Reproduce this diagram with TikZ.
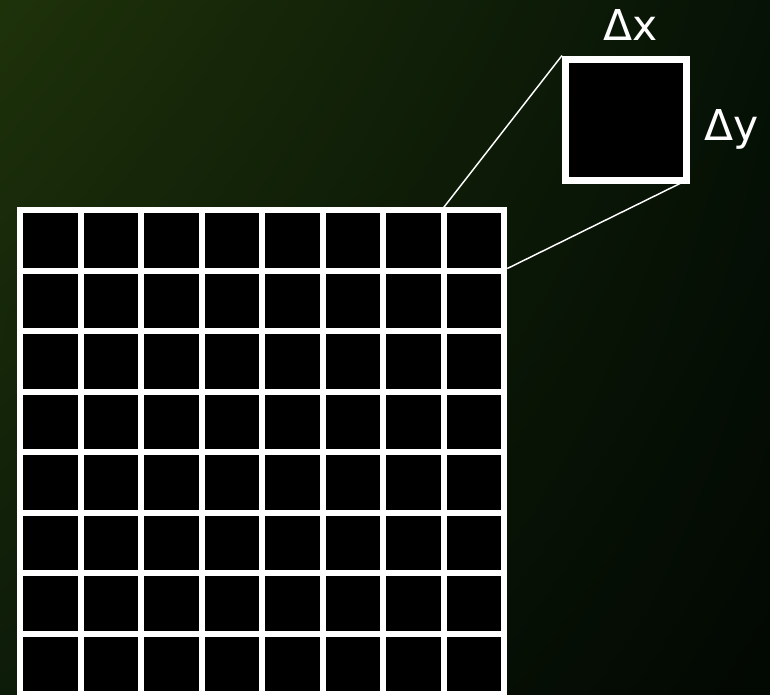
\documentclass[tikz,border=0pt]{standalone}
\usepackage{fontspec}
\setmainfont{DejaVu Sans}
\usepackage{tikz}
\usetikzlibrary{calc,shadings}

\definecolor{bgUL}{RGB}{30,50,10}
\definecolor{bgUR}{RGB}{6,18,6}
\definecolor{bgLL}{RGB}{13,27,9}
\definecolor{bgLR}{RGB}{2,8,2}

\begin{document}
\begin{tikzpicture}[x=0.75pt, y=-0.75pt,
    gridline/.style={white, line width=4.5pt},
    link/.style={white, line width=1.1pt},
    label/.style={white, anchor=base, inner sep=0pt, font=\fontsize{31.9}{36}\selectfont}]
  % background
  \useasboundingbox (0,0) rectangle (770,694);
  \shade[upper left=bgUL, upper right=bgUR, lower left=bgLL, lower right=bgLR]
    (0,0) rectangle (770,694);

  \coordinate (gtop) at (443.8,207.3);
  \coordinate (gright) at (507.3,268.5);
  \node[draw=white, fill=black, line width=5.25pt, minimum size=90.75pt,
        inner sep=0pt] (zoom) at (626,119.5) {};

  \draw[link] (gtop) -- (zoom.north west);
  \draw[link] (gright) -- ([xshift=-7.5pt]zoom.south east);

  % grid of cells
  \fill[black] (17.3,207.3) rectangle (507.3,697);
  \foreach \k in {0,...,8} {
    \draw[gridline] ({20.3+60.5*\k},207.3) -- ({20.3+60.5*\k},697);
    \draw[gridline] (17.3,{210.3+60.5*\k}) -- (507.3,{210.3+60.5*\k});
  }

  \node[label] (dx) at (631,40) {Δx};
  \node[label] (dy) at (732,140) {Δy};
\end{tikzpicture}
\end{document}
